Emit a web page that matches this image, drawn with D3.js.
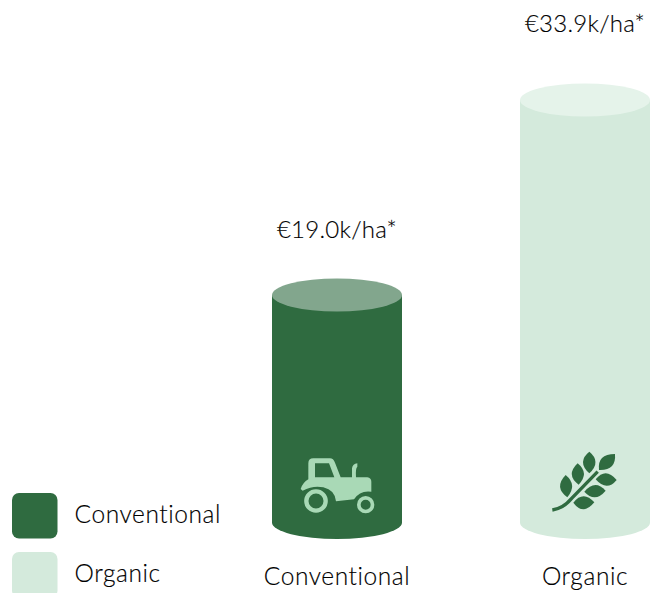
<!DOCTYPE html>
<html><head><meta charset="utf-8">
<script src="https://cdn.jsdelivr.net/npm/d3@7"></script>
<style>html,body{margin:0;padding:0;background:#fff;overflow:hidden}svg{display:block}text{font-family:Lato,sans-serif;font-weight:300;fill:#000;stroke:#000;stroke-width:0.15px;letter-spacing:0.58px}text.val{letter-spacing:0.25px}</style>
</head><body><svg id="c" width="650" height="593"></svg>
<script>
const categories = ["Conventional", "Organic"];
const values = [19.0, 33.9];
const valueLabels = ["€19.0k/ha*", "€33.9k/ha*"];
const bodyColors = ["#2f6b40", "#d4eadc"];
const topColors = ["#82a68d", "#e5f3ea"];

const tractorBody = "M62,147 Q68,128 85,118 L85,70 Q85,55 100,55 L150,55 Q160,55 165,68 L182,112 L216,112 L216,85 Q218,72 232,70 L232,80 Q226,85 228,112 L262,112 Q274,114 274,125 L274,155 Q240,150 222,178 L168,184 Q165,150 130,142 Q100,135 68,152 Z M105,70 L105,112 L163,112 L147,70 Z";
const leaves = [
 "M92,105 Q128,135 97,172 Q56,142 92,105Z",
 "M128,70 Q164,100 131,134 Q91,105 128,70Z",
 "M163,35 Q200,65 163,100 Q125,65 163,35Z",
 "M240,42 Q244,92 192,90 Q186,42 240,42Z",
 "M245,120 Q215,156 182,118 Q212,80 245,120Z",
 "M212,152 Q180,190 148,155 Q180,116 212,152Z",
 "M178,187 Q145,228 115,188 Q145,150 178,187Z"];
const stem = "M52,210 Q85,205 110,175 L188,95";

const rx = 65, ry = 16.5;
const svg = d3.select("#c");
const x = d3.scalePoint().domain(categories).range([337, 585]);
const y = d3.scaleLinear().domain([19, 33.9]).range([295, 100]);
const labelY = d3.scaleLinear().domain([19, 33.9]).range([238, 32]);
const baseY = 522.5;

const g = svg.selectAll("g.bar").data(categories).join("g").attr("class","bar");
g.append("path").attr("fill",(d,i)=>bodyColors[i]).attr("d",(d,i)=>{
  const c=x(d), t=y(values[i]);
  return `M${c-rx},${t}V${baseY}A${rx},${ry} 0 0 0 ${c+rx},${baseY}V${t}Z`;
});
g.append("ellipse").attr("cx",d=>x(d)).attr("cy",(d,i)=>y(values[i])).attr("rx",rx).attr("ry",ry)
 .attr("fill",(d,i)=>topColors[i]);
g.append("text").attr("class","val").attr("x",d=>x(d)).attr("y",(d,i)=>labelY(values[i])).attr("text-anchor","middle")
 .attr("font-size",24).text((d,i)=>valueLabels[i]);
g.append("text").attr("x",d=>x(d)).attr("y",584.5).attr("text-anchor","middle").attr("font-size",24.5).text(d=>d);

const ic1 = svg.append("g").attr("transform",`translate(${x(categories[0])-57},440) scale(${1/3})`).attr("fill","#a9d9b6");
ic1.append("path").attr("d",tractorBody).attr("fill-rule","evenodd");
ic1.append("circle").attr("cx",108).attr("cy",183).attr("r",29).attr("fill","none").attr("stroke","#a9d9b6").attr("stroke-width",13);
ic1.append("circle").attr("cx",257).attr("cy",194).attr("r",20.5).attr("fill","none").attr("stroke","#a9d9b6").attr("stroke-width",11);
const ic2 = svg.append("g").attr("transform",`translate(${x(categories[1])-50},440) scale(${1/3})`);
ic2.selectAll("path.l").data(leaves).join("path").attr("class","l").attr("d",d=>d).attr("fill","#2f6b40");
ic2.append("path").attr("d",stem).attr("fill","none").attr("stroke","#2f6b40").attr("stroke-width",10);

const leg = svg.selectAll("g.leg").data(categories).join("g").attr("class","leg")
 .attr("transform",(d,i)=>`translate(12,${493+i*59})`);
leg.append("rect").attr("width",45.5).attr("height",45.5).attr("rx",7).attr("fill",(d,i)=>bodyColors[i]);
leg.append("text").attr("x",62.5).attr("y",29.5).attr("font-size",24.5).text(d=>d);
</script></body></html>
